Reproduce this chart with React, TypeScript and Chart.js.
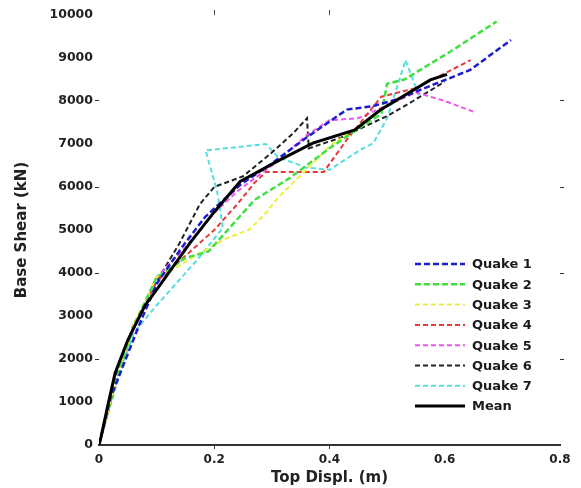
import React, { useEffect, useRef } from "react";
import { Chart, registerables } from "chart.js";
Chart.register(...registerables);

const seriesLabels = ["Quake 1", "Quake 2", "Quake 3", "Quake 4", "Quake 5", "Quake 6", "Quake 7", "Mean"];

const quake1: [number, number][] = [[0,0],[0.02,1100],[0.045,1950],[0.07,2800],[0.1,3750],[0.144,4600],[0.184,5300],[0.222,5770],[0.245,6050],[0.3,6550],[0.36,7150],[0.43,7800],[0.475,7880],[0.52,8050],[0.557,8256],[0.644,8721],[0.715,9420]];
const quake2: [number, number][] = [[0,0],[0.03,1500],[0.06,2750],[0.1,3900],[0.15,4350],[0.19,4500],[0.23,5100],[0.27,5700],[0.33,6200],[0.4,6900],[0.46,7450],[0.49,7700],[0.5,8400],[0.53,8500],[0.61,9150],[0.69,9850]];
const quake3: [number, number][] = [[0,0],[0.03,1500],[0.06,2800],[0.1,3900],[0.13,4100],[0.18,4500],[0.22,4800],[0.26,5000],[0.29,5400],[0.31,5750],[0.36,6400],[0.4,6950],[0.45,7400],[0.5,7900],[0.55,8300]];
const quake4: [number, number][] = [[0,0],[0.03,1500],[0.06,2800],[0.1,3800],[0.15,4400],[0.2,5000],[0.24,5600],[0.27,6100],[0.29,6350],[0.39,6350],[0.43,7100],[0.49,8100],[0.55,8300],[0.645,8950]];
const quake5: [number, number][] = [[0,0],[0.05,2400],[0.1,3900],[0.15,4600],[0.2,5400],[0.24,5900],[0.3,6500],[0.36,7200],[0.4,7550],[0.45,7600],[0.5,7900],[0.55,8200],[0.6,8000],[0.65,7750]];
const quake6: [number, number][] = [[0,0],[0.03,1600],[0.06,2800],[0.1,3800],[0.14,4700],[0.175,5600],[0.2,6000],[0.25,6250],[0.3,6800],[0.337,7250],[0.361,7600],[0.364,6900],[0.42,7150],[0.5,7650],[0.545,8000],[0.6,8450]];
const quake7: [number, number][] = [[0,0],[0.03,1400],[0.06,2600],[0.1,3250],[0.135,3770],[0.17,4300],[0.2,4800],[0.215,5050],[0.205,5900],[0.185,6850],[0.29,7000],[0.31,6700],[0.36,6450],[0.4,6400],[0.453,6860],[0.476,7020],[0.5,7600],[0.532,8950],[0.556,8100]];
const mean: [number, number][] = [[0,0],[0.0035,186],[0.015,900],[0.028,1674],[0.05,2442],[0.08,3250],[0.102,3650],[0.158,4700],[0.2,5420],[0.245,6130],[0.314,6630],[0.371,7020],[0.444,7326],[0.488,7790],[0.575,8490],[0.604,8620]];

const seriesData = [quake1, quake2, quake3, quake4, quake5, quake6, quake7, mean];
const seriesColors = ["#1c1cd2", "#3fe03f", "#efef3a", "#e63a3a", "#ee55ee", "#222222", "#55dede", "#000000"];
const seriesWidths = [2.5, 2.5, 2, 2, 2, 2, 2, 3];
const seriesDashes = [[6, 3], [6, 3], [5, 3], [5, 3], [5, 3], [5, 3], [5, 3], []];

const xTicks = [0, 0.2, 0.4, 0.6, 0.8];
const yMax = 10000;

const FONT = "'DejaVu Sans', sans-serif";

const legendPlugin = {
  id: "insideLegend",
  afterDatasetsDraw(chart: any) {
    const { ctx, chartArea } = chart;
    const x0 = chartArea.right - 145;
    let y = chartArea.top + 249;
    ctx.save();
    ctx.font = `bold 13px ${FONT}`;
    ctx.textBaseline = "middle";
    ctx.textAlign = "left";
    chart.data.datasets.forEach((ds: any) => {
      ctx.beginPath();
      ctx.setLineDash(ds.borderDash || []);
      ctx.lineWidth = ds.borderWidth;
      ctx.strokeStyle = ds.borderColor;
      ctx.moveTo(x0, y);
      ctx.lineTo(x0 + 50, y);
      ctx.stroke();
      ctx.setLineDash([]);
      ctx.fillStyle = "#1a1a1a";
      ctx.fillText(ds.label, x0 + 57, y + 1);
      y += 20.3;
    });
    ctx.restore();
  },
};

export default function App() {
  const ref = useRef<HTMLCanvasElement>(null);
  useEffect(() => {
    if (!ref.current) return;
    const chart = new Chart(ref.current, {
      type: "line",
      data: {
        datasets: seriesData.map((d, i) => ({
          label: seriesLabels[i],
          data: d.map(([x, y]) => ({ x, y })),
          borderColor: seriesColors[i],
          backgroundColor: seriesColors[i],
          borderWidth: seriesWidths[i],
          borderDash: seriesDashes[i],
          pointRadius: 0,
          fill: false,
          tension: 0,
          order: i === 7 ? -1 : i,
        })),
      },
      options: {
        responsive: false,
        animation: false,
        events: [],
        layout: { padding: { top: 15, right: 21, left: 0, bottom: 0 } },
        plugins: { legend: { display: false }, tooltip: { enabled: false } },
        scales: {
          x: {
            type: "linear",
            min: 0,
            max: 0.8,
            afterBuildTicks: (s: any) => { s.ticks = xTicks.map((v) => ({ value: v })); },
            afterFit: (s: any) => { s.height = 43; },
            ticks: { color: "#222", font: { family: FONT, size: 12, weight: "bold" }, padding: 4, callback: (v: any) => String(v) },
            grid: {
              drawOnChartArea: false,
              drawTicks: true,
              tickLength: 4,
              color: (c: any) => (c.tick && (c.tick.value === 0.2 || c.tick.value === 0.4) ? "#333" : "rgba(0,0,0,0)"),
            },
            border: { display: true, color: "#333", width: 2 },
            title: { display: true, text: "Top Displ. (m)", color: "#222", font: { family: FONT, size: 15, weight: "bold" }, padding: { top: 0, bottom: 1 } },
          },
          x2: {
            type: "linear",
            position: "top",
            min: 0,
            max: 0.8,
            afterBuildTicks: (s: any) => { s.ticks = [0.2, 0.4].map((v) => ({ value: v })); },
            afterFit: (s: any) => { s.height = 0; },
            ticks: { display: false },
            grid: { drawOnChartArea: false, drawTicks: true, tickLength: 5, color: "#444" },
            border: { display: false },
          },
          y: {
            type: "linear",
            min: 0,
            max: yMax,
            afterFit: (s: any) => { s.width = 99; },
            ticks: { stepSize: 1000, color: "#222", font: { family: FONT, size: 12.5, weight: "bold" }, padding: 2, callback: (v: any) => String(v) },
            grid: {
              drawOnChartArea: false,
              drawTicks: true,
              tickLength: 4,
              color: (c: any) => (c.tick && c.tick.value > 0 && c.tick.value < yMax && c.tick.value % 2000 === 0 ? "#333" : "rgba(0,0,0,0)"),
            },
            border: { display: false },
            title: { display: true, text: "Base Shear (kN)", color: "#222", font: { family: FONT, size: 15, weight: "bold" }, padding: { top: 13, bottom: 0 } },
          },
          y2: {
            type: "linear",
            position: "right",
            min: 0,
            max: yMax,
            afterBuildTicks: (s: any) => { s.ticks = [2000, 4000, 6000, 8000].map((v) => ({ value: v })); },
            afterFit: (s: any) => { s.width = 0; },
            ticks: { display: false },
            grid: { drawOnChartArea: false, drawTicks: true, tickLength: 4, color: "#333" },
            border: { display: false },
          },
        },
      },
      plugins: [legendPlugin],
    } as any);
    return () => chart.destroy();
  }, []);
  return (
    <div style={{ position: "absolute", left: 0, top: 0, width: 581, height: 488, background: "#fff" }}>
      <canvas ref={ref} width={581} height={488} />
    </div>
  );
}
